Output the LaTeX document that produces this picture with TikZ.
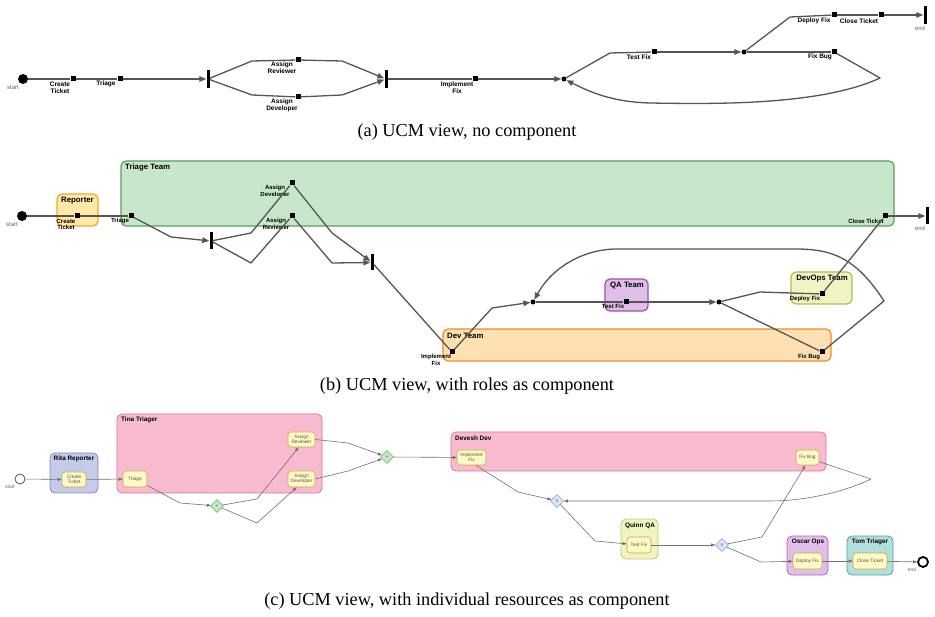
\documentclass[tikz,border=0pt]{standalone}
\usepackage{fontspec}
\setmainfont{Liberation Serif}
\newfontfamily\sfl{Liberation Sans}
\usetikzlibrary{arrows.meta,shapes.geometric}
\definecolor{pathgray}{HTML}{555555}
\definecolor{thingray}{HTML}{707070}
\definecolor{lblgray}{HTML}{666666}
\definecolor{ttfill}{HTML}{C8E6C9}\definecolor{ttdraw}{HTML}{5A9E5A}
\definecolor{repfill}{HTML}{FFE8A8}\definecolor{repdraw}{HTML}{F5A623}
\definecolor{devfill}{HTML}{FFE0B2}\definecolor{devdraw}{HTML}{F08A24}
\definecolor{qafill}{HTML}{E1BEE7}\definecolor{qadraw}{HTML}{9C4FB0}
\definecolor{opsfill}{HTML}{F0F4C3}\definecolor{opsdraw}{HTML}{B8B84C}
\definecolor{pinkfill}{HTML}{F8BBD0}\definecolor{pinkdraw}{HTML}{E0709A}
\definecolor{ritafill}{HTML}{C5CAE9}\definecolor{ritadraw}{HTML}{7C87CC}
\definecolor{quinnfill}{HTML}{F0F4C3}\definecolor{quinndraw}{HTML}{C8C870}
\definecolor{oscarfill}{HTML}{E1BEE7}\definecolor{oscardraw}{HTML}{A868C0}
\definecolor{tomfill}{HTML}{B2DFDB}\definecolor{tomdraw}{HTML}{4AA59C}
\definecolor{taskfill}{HTML}{FFF9C4}\definecolor{taskdraw}{HTML}{C9A94F}
\definecolor{andfill}{HTML}{C8E6C9}\definecolor{anddraw}{HTML}{80B880}
\definecolor{xorfill}{HTML}{DCE8FA}\definecolor{xordraw}{HTML}{8AAEE0}
\begin{document}
\begin{tikzpicture}[x=1pt,y=-1pt,
  ucm/.style={draw=pathgray,line width=1.3pt,line join=round},
  ua/.style={ucm,-{Triangle[length=7pt,width=5.5pt]}},
  cl/.style={draw=thingray,line width=0.6pt,line join=round},
  ca/.style={cl,-{Triangle[length=4pt,width=3pt]}},
  resp/.style={fill=black,minimum size=5pt,inner sep=0pt},
  bar/.style={fill=black,minimum width=3pt,minimum height=18pt,inner sep=0pt},
  ordot/.style={circle,fill=black,minimum size=5pt,inner sep=0pt},
  startdot/.style={circle,fill=black,minimum size=10pt,inner sep=0pt},
  rl/.style={font=\sfl\bfseries\fontsize{6.5}{7.3}\selectfont,align=center,inner sep=0pt},
  rlb/.style={font=\sfl\bfseries\fontsize{6}{6.8}\selectfont,align=center,inner sep=0pt},
  gl/.style={font=\sfl\fontsize{6}{6}\selectfont,text=lblgray,inner sep=0pt},
  comp/.style={rounded corners=5pt,line width=1.2pt,inner sep=0pt},
  clab/.style={font=\sfl\bfseries\fontsize{7.8}{8}\selectfont,inner sep=0pt},
  cclab/.style={font=\sfl\bfseries\fontsize{6.4}{6.6}\selectfont,inner sep=0pt},
  task/.style={draw=taskdraw,fill=taskfill,rounded corners=3pt,line width=0.6pt,inner sep=0pt,
    font=\sfl\fontsize{4.8}{5.4}\selectfont,text=pathgray,align=center},
  gate/.style={diamond,draw,line width=0.6pt,minimum size=13pt,inner sep=0pt,
    font=\sfl\fontsize{5}{5}\selectfont,text=pathgray},
  captxt/.style={font=\fontsize{18.3}{20}\selectfont,inner sep=0pt}
]
\useasboundingbox (0,0) rectangle (935,617);

% ================= (a) =================
\node[startdot] (a-s) at (23,79) {};
\node[gl] (a-sl) at (13,88) {start};
\node[resp] (a-ct) at (73,79) {};
\node[rl] (a-ctl) at (60,87.5) {Create\\Ticket};
\node[resp] (a-tr) at (120,79) {};
\node[rl] (a-trl) at (106,84) {Triage};
\node[bar] (a-f) at (208,79) {};
\node[resp] (a-ar) at (298,60) {};
\node[rl] (a-arl) at (282,68) {Assign\\Reviewer};
\node[resp] (a-ad) at (298,97) {};
\node[rl] (a-adl) at (282,105.5) {Assign\\Developer};
\node[bar] (a-j) at (386,79) {};
\node[resp] (a-if) at (475,79) {};
\node[rl] (a-ifl) at (457,87.5) {Implement\\Fix};
\node[ordot] (a-d1) at (564,79) {};
\node[resp] (a-tf) at (654,52) {};
\node[rl] (a-tfl) at (639,57) {Test Fix};
\node[ordot] (a-d2) at (744,52) {};
\node[resp] (a-df) at (834,15) {};
\node[rl] (a-dfl) at (814,21) {Deploy Fix};
\node[resp] (a-cl) at (881,15) {};
\node[rl] (a-cll) at (859,21) {Close Ticket};
\node[bar] (a-e) at (925,15) {};
\node[gl] (a-el) at (920,28.5) {end};
\node[resp] (a-fb) at (834,52) {};
\node[rl] (a-fbl) at (820,57) {Fix Bug};
\coordinate (a-u1) at (252,61);
\coordinate (a-u2) at (342,61);
\coordinate (a-l1) at (252,95);
\coordinate (a-l2) at (342,95);
\coordinate (a-t1) at (610,53);
\coordinate (a-p1) at (790,17);
\coordinate (a-r1) at (880,78);
\coordinate (a-r2) at (650,103);

\draw[ucm] (a-s) -- (a-ct);
\draw[ucm] (a-ct) -- (a-tr);
\draw[ua] (a-tr) -- (a-f);
\draw[ucm] (a-f) -- (a-u1) -- (a-ar);
\draw[ua] (a-ar) -- (a-u2) -- (a-j);
\draw[ucm] (a-f) -- (a-l1) -- (a-ad);
\draw[ua] (a-ad) -- (a-l2) -- (a-j);
\draw[ucm] (a-j) -- (a-if);
\draw[ua] (a-if) -- (a-d1);
\draw[ucm] (a-d1) -- (a-t1) -- (a-tf);
\draw[ua] (a-tf) -- (a-d2);
\draw[ucm] (a-d2) -- (a-p1) -- (a-df);
\draw[ucm] (a-df) -- (a-cl);
\draw[ua] (a-cl) -- (a-e);
\draw[ucm] (a-d2) -- (a-fb);
\draw[ua] (a-fb) -- (a-r1) .. controls (820,106) and (710,104) .. (a-r2) .. controls (612,102) and (590,92) .. (a-d1);

\node[captxt] (capa) at (467,132) {(a) UCM view, no component};

% ================= (b) =================
\node[comp,draw=ttdraw,fill=ttfill,minimum width=773pt,minimum height=65pt] (b-tt) at (507.5,193.5) {};
\node[clab,anchor=west] (b-ttl) at (125,168) {Triage Team};
\node[comp,draw=repdraw,fill=repfill,minimum width=41pt,minimum height=32pt] (b-rep) at (77.5,210) {};
\node[clab] (b-repl) at (77.5,200.5) {Reporter};
\node[comp,draw=devdraw,fill=devfill,minimum width=388pt,minimum height=32pt] (b-dev) at (637,345) {};
\node[clab,anchor=west] (b-devl) at (447,336) {Dev Team};
\node[comp,draw=qadraw,fill=qafill,minimum width=43pt,minimum height=32pt] (b-qa) at (626.5,295) {};
\node[clab] (b-qal) at (627,285.5) {QA Team};
\node[comp,draw=opsdraw,fill=opsfill,minimum width=61pt,minimum height=32pt] (b-ops) at (821.5,288) {};
\node[clab] (b-opsl) at (822,279) {DevOps Team};

\node[startdot] (b-s) at (22,216) {};
\node[gl] (b-sl) at (12,225) {start};
\node[resp] (b-ct) at (77,216) {};
\node[rlb] (b-ctl) at (66,224.5) {Create\\Ticket};
\node[resp] (b-tr) at (131,216) {};
\node[rlb] (b-trl) at (120,221) {Triage};
\node[bar,minimum height=17pt] (b-f) at (211,241) {};
\node[resp] (b-ad) at (292,183) {};
\node[rlb] (b-adl) at (275,191.5) {Assign\\Developer};
\node[resp] (b-ar) at (292,216) {};
\node[rlb] (b-arl) at (276,224) {Assign\\Reviewer};
\node[bar,minimum height=16pt] (b-j) at (372,262.5) {};
\node[resp] (b-if) at (452,352) {};
\node[rlb] (b-ifl) at (436,359.5) {Implement\\Fix};
\node[ordot] (b-d1) at (533,302) {};
\node[resp] (b-tf) at (626,302) {};
\node[rlb] (b-tfl) at (613,306.5) {Test Fix};
\node[ordot] (b-d2) at (719,302) {};
\node[resp] (b-df) at (822,294) {};
\node[rlb] (b-dfl) at (805,299) {Deploy Fix};
\node[resp] (b-cl) at (885,216) {};
\node[rlb] (b-cll) at (866,221) {Close Ticket};
\node[bar,minimum height=17pt] (b-e) at (927,216) {};
\node[gl] (b-el) at (920,228.5) {end};
\node[resp] (b-fb) at (822,352) {};
\node[rlb] (b-fbl) at (809,357) {Fix Bug};
\coordinate (b-t1) at (171,237);
\coordinate (b-u1) at (251,233);
\coordinate (b-l1) at (251,263);
\coordinate (b-u2) at (332,233);
\coordinate (b-l2) at (332,263);
\coordinate (b-i1) at (492,308);
\coordinate (b-p1) at (760,292);
\coordinate (b-r1) at (884,301);
\coordinate (b-r2) at (795,249);
\coordinate (b-r3) at (617,249);

\draw[ucm] (b-s) -- (b-ct);
\draw[ucm] (b-ct) -- (b-tr);
\draw[ua] (b-tr) -- (b-t1) -- (b-f);
\draw[ucm] (b-f) -- (b-u1) -- (b-ad);
\draw[ucm] (b-f) -- (b-l1) -- (b-ar);
\draw[ua] (b-ad) -- (b-u2) -- (b-j);
\draw[ua] (b-ar) -- (b-l2) -- (b-j);
\draw[ucm] (b-j) -- (b-if);
\draw[ua] (b-if) -- (b-i1) -- (b-d1);
\draw[ucm] (b-d1) -- (b-tf);
\draw[ua] (b-tf) -- (b-d2);
\draw[ucm] (b-d2) -- (b-p1) -- (b-df);
\draw[ucm] (b-df) -- (b-cl);
\draw[ua] (b-cl) -- (b-e);
\draw[ucm] (b-d2) -- (b-fb);
\draw[ua] (b-fb) -- (b-r1) .. controls (855,256) and (830,249) .. (b-r2) -- (b-r3) .. controls (585,249) and (553,266) .. (b-d1);

\node[captxt] (capb) at (467,386) {(b) UCM view, with roles as component};

% ================= (c) =================
\node[comp,line width=0.8pt,draw=ritadraw,fill=ritafill,minimum width=48pt,minimum height=40pt] (c-rita) at (74,473) {};
\node[cclab] (c-rital) at (74,459) {Rita Reporter};
\node[comp,line width=0.8pt,draw=pinkdraw,fill=pinkfill,minimum width=205pt,minimum height=79pt] (c-tina) at (219.5,453.5) {};
\node[cclab,anchor=west] (c-tinal) at (121,420) {Tina Triager};
\node[comp,line width=0.8pt,draw=pinkdraw,fill=pinkfill,minimum width=375pt,minimum height=39pt] (c-dev) at (638.5,451.5) {};
\node[cclab,anchor=west] (c-devl) at (455,438) {Devesh Dev};
\node[comp,line width=0.8pt,draw=quinndraw,fill=quinnfill,minimum width=37pt,minimum height=40pt] (c-qa) at (639.5,539) {};
\node[cclab] (c-qal) at (640,526) {Quinn QA};
\node[comp,line width=0.8pt,draw=oscardraw,fill=oscarfill,minimum width=41pt,minimum height=39pt] (c-ops) at (807.5,555.5) {};
\node[cclab] (c-opsl) at (808,542) {Oscar Ops};
\node[comp,line width=0.8pt,draw=tomdraw,fill=tomfill,minimum width=46pt,minimum height=39pt] (c-tom) at (870,555.5) {};
\node[cclab] (c-toml) at (870,542) {Tom Triager};

\node[circle,draw=pathgray,fill=white,line width=0.8pt,minimum size=10pt,inner sep=0pt] (c-s) at (20,479) {};
\node[gl,font=\sfl\fontsize{5}{5}\selectfont] (c-sl) at (10,487) {start};
\node[task,minimum width=24pt,minimum height=15pt] (c-ct) at (74,479.5) {Create\\Ticket};
\node[task,minimum width=24pt,minimum height=16pt] (c-tr) at (135,479) {Triage};
\node[task,minimum width=27pt,minimum height=15pt] (c-ar) at (301.5,439.5) {Assign\\Reviewer};
\node[task,minimum width=27pt,minimum height=16pt] (c-ad) at (301.5,479) {Assign\\Developer};
\node[gate,draw=anddraw,fill=andfill] (c-f) at (217,506) {+};
\node[gate,draw=anddraw,fill=andfill] (c-j) at (387,457) {+};
\node[task,minimum width=29pt,minimum height=15pt] (c-if) at (471.5,457.5) {Implement\\Fix};
\node[task,minimum width=23pt,minimum height=15pt] (c-fb) at (807.5,457.5) {Fix Bug};
\node[gate,draw=xordraw,fill=xorfill] (c-x1) at (557,501) {x};
\node[task,minimum width=24pt,minimum height=16pt] (c-tf) at (639,545) {Test Fix};
\node[gate,draw=xordraw,fill=xorfill] (c-x2) at (722,545) {x};
\node[task,minimum width=29pt,minimum height=16pt] (c-df) at (807.5,561) {Deploy Fix};
\node[task,minimum width=34pt,minimum height=16pt] (c-cl) at (870,561) {Close Ticket};
\node[circle,draw=black,fill=white,line width=1.8pt,minimum size=10pt,inner sep=0pt] (c-e) at (923,562) {};
\node[gl,font=\sfl\fontsize{5}{5}\selectfont] (c-el) at (912,569.5) {end};
\coordinate (c-b1) at (180,503);
\coordinate (c-b2) at (257,499);
\coordinate (c-b3) at (257,523);
\coordinate (c-b4) at (348,443);
\coordinate (c-b5) at (348,471);
\coordinate (c-b6) at (518,492);
\coordinate (c-b7) at (871,479);
\coordinate (c-b8) at (770,501);
\coordinate (c-b9) at (595,541);
\coordinate (c-b10) at (762,537);
\coordinate (c-b11) at (761,562);

\draw[ca] (c-s) -- (c-ct);
\draw[ca] (c-ct) -- (c-tr);
\draw[ca] (c-tr.-28) -- (c-b1) -- (c-f);
\draw[ca] (c-f) -- (c-b2) -- (c-ar.-110);
\draw[ca] (c-f) -- (c-b3) -- (c-ad.-120);
\draw[ca] (c-ar.east) -- (c-b4) -- (c-j);
\draw[ca] (c-ad.east) -- (c-b5) -- (c-j);
\draw[ca] (c-j) -- (c-if);
\draw[ca] (c-if.-60) -- (c-b6) -- (c-x1);
\draw[ca] (c-fb.-20) -- (c-b7) .. controls (840,494) and (800,501) .. (c-b8) -- (c-x1);
\draw[ca] (c-x1) -- (c-b9) -- (c-tf);
\draw[ca] (c-tf) -- (c-x2);
\draw[ca] (c-x2) -- (c-b10) -- (c-fb.-105);
\draw[ca] (c-x2) -- (c-b11) -- (c-df);
\draw[ca] (c-df) -- (c-cl);
\draw[ca] (c-cl) -- (c-e);

\node[captxt] (capc) at (467,601.5) {(c) UCM view, with individual resources as component};
\end{tikzpicture}
\end{document}
